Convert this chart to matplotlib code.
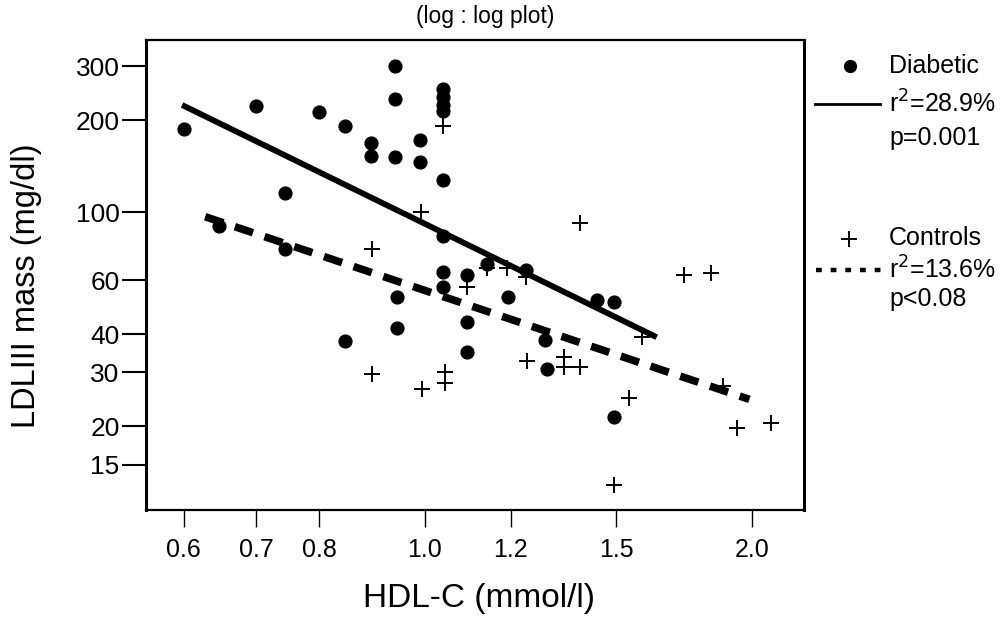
import matplotlib
matplotlib.use("Agg")
import matplotlib.pyplot as plt
from matplotlib.lines import Line2D
from matplotlib.ticker import FixedLocator, FixedFormatter, NullLocator

plt.rcParams['font.family'] = ['Liberation Sans', 'DejaVu Sans']

# ---------------- data ----------------
diabetic_x = [0.60, 0.647, 0.70, 0.744, 0.744, 0.80, 0.845, 0.845, 0.893, 0.893,
              0.94, 0.94, 0.94, 0.943, 0.943, 0.99, 0.99, 1.04, 1.04, 1.04,
              1.04, 1.04, 1.04, 1.04, 1.04, 1.093, 1.093, 1.093, 1.141, 1.194,
              1.24, 1.291, 1.295, 1.44, 1.492, 1.495]
diabetic_y = [187, 90, 223, 116, 76, 213, 191, 38, 169, 153,
              301, 235, 152, 53, 42, 172, 146, 253, 238, 224,
              214, 128, 84, 64, 57, 62.4, 44, 35, 68, 53,
              65, 38.3, 30.9, 51.7, 51.1, 21.5]

controls_x = [1.039, 0.992, 0.894, 1.39, 0.894, 0.994, 1.043, 1.043, 1.093, 1.141,
              1.19, 1.24, 1.241, 1.344, 1.344, 1.39, 1.584, 1.541, 1.495, 1.734,
              1.834, 1.88, 1.937, 2.083]
controls_y = [192, 100, 76, 92.5, 29.6, 26.4, 30.0, 27.8, 57.2, 65.7,
              65.7, 61.6, 32.7, 33.8, 31.3, 31.2, 39.3, 24.8, 12.9, 62.4,
              63.5, 27.1, 19.7, 20.5]

# regression lines (log-log), endpoints
diab_fit_x = [0.598, 1.635]
diab_fit_y = [224.3, 39.1]
ctrl_fit_x = [0.628, 1.99]
ctrl_fit_y = [96.8, 24.5]

x_ticks = [0.6, 0.7, 0.8, 1.0, 1.2, 1.5, 2.0]
x_tick_labels = ["0.6", "0.7", "0.8", "1.0", "1.2", "1.5", "2.0"]
y_ticks = [15, 20, 30, 40, 60, 100, 200, 300]
y_tick_labels = ["15", "20", "30", "40", "60", "100", "200", "300"]

title = "(log : log plot)"
x_label = "HDL-C (mmol/l)"
y_label = "LDLIII mass (mg/dl)"
legend_texts = ["Diabetic", "r$^{2}$=28.9%", "p=0.001", "Controls", "r$^{2}$=13.6%", "p<0.08"]

# ---------------- figure ----------------
W, H = 1007, 625
fig = plt.figure(figsize=(W / 100, H / 100), dpi=100)
ax = fig.add_axes([146 / W, 1 - 510 / H, (804 - 146) / W, (510 - 40) / H])
ax.set_xscale('log')
ax.set_yscale('log')
ax.set_xlim(0.554, 2.234)
ax.set_ylim(10.66, 365.7)

ax.plot(diab_fit_x, diab_fit_y, color='black', lw=4.2, solid_capstyle='butt', zorder=2)
ax.plot(ctrl_fit_x, ctrl_fit_y, color='black', lw=5.5, linestyle=(0, (2.5, 1.6)),
        dash_capstyle='butt', zorder=2)
ax.plot(diabetic_x, diabetic_y, linestyle='none', marker='o', ms=9.2,
        color='black', zorder=3)
ax.plot(controls_x, controls_y, linestyle='none', marker='+', ms=12, mew=1.4,
        color='black', zorder=3)

ax.xaxis.set_major_locator(FixedLocator(x_ticks))
ax.xaxis.set_major_formatter(FixedFormatter(x_tick_labels))
ax.yaxis.set_major_locator(FixedLocator(y_ticks))
ax.yaxis.set_major_formatter(FixedFormatter(y_tick_labels))
ax.xaxis.set_minor_locator(NullLocator())
ax.yaxis.set_minor_locator(NullLocator())
ax.tick_params(axis='x', direction='out', length=12, width=1.0, pad=8, labelsize=18)
ax.tick_params(axis='y', direction='out', length=17, width=1.5, pad=2, labelsize=19)

for side, w in [('left', 2.2), ('right', 2.2), ('top', 1.6), ('bottom', 1.6)]:
    ax.spines[side].set_linewidth(w)

ax.set_xlabel(x_label, fontsize=24)
ax.xaxis.label.set_va('center')
ax.xaxis.set_label_coords(0.506, -0.189)
ax.set_ylabel(y_label, fontsize=23.5)
ax.yaxis.label.set_va('center')
ax.yaxis.set_label_coords(-0.182, 0.477)

fig.text(485 / W, 1 - 17 / H, title, ha='center', va='center', fontsize=16.5)

# ---------------- legend (outside, right) ----------------
def fx(px):
    return px / W

def fy(py):
    return 1 - py / H

fig.add_artist(Line2D([fx(850)], [fy(66)], marker='o', ms=8.5, color='black',
                      linestyle='none', transform=fig.transFigure))
fig.add_artist(Line2D([fx(815), fx(880)], [fy(104), fy(104)], color='black', lw=2.0,
                      transform=fig.transFigure))
fig.add_artist(Line2D([fx(849)], [fy(239)], marker='+', ms=12, mew=1.4, color='black',
                      linestyle='none', transform=fig.transFigure))
fig.add_artist(Line2D([fx(816), fx(882)], [fy(270), fy(270)], color='black', lw=3.2,
                      linestyle=(0, (1.3, 2.0)), dash_capstyle='butt',
                      transform=fig.transFigure))

text_y = [66, 104, 138, 238, 270, 299]
for t, yy in zip(legend_texts, text_y):
    fig.text(fx(889), fy(yy), t, ha='left', va='center', fontsize=18)

fig.savefig("out.png", dpi=100)
